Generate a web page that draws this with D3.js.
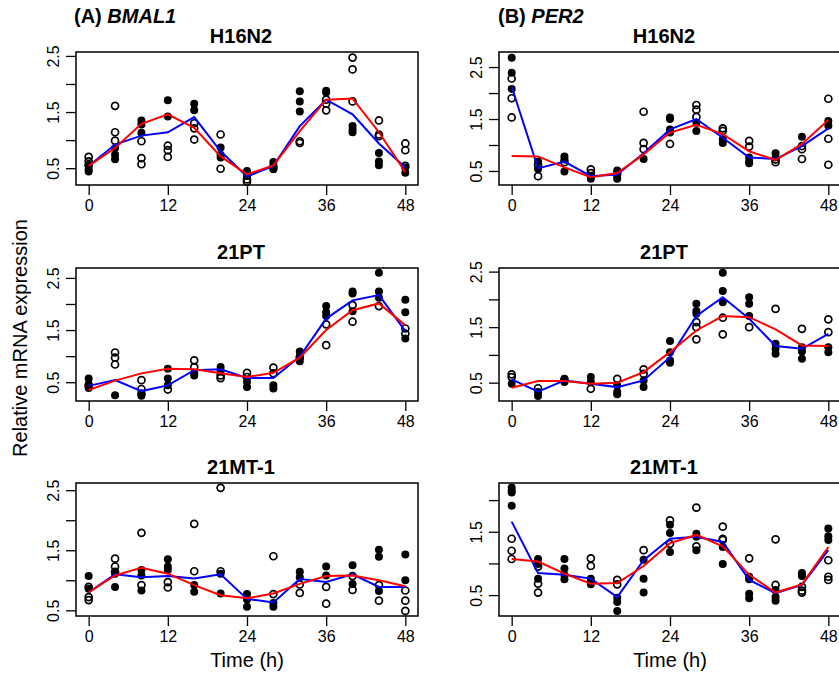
<!DOCTYPE html>
<html>
<head>
<meta charset="utf-8">
<script src="https://cdn.jsdelivr.net/npm/d3@7"></script>
<style>
  body { margin: 0; background: #fff; overflow: hidden; }
  svg { display: block; font-family: "Liberation Sans", Arial, Helvetica, sans-serif; }
</style>
</head>
<body>
<svg id="chart" width="839" height="676"></svg>
<script>
// time points (h)
var times = [0, 4, 8, 12, 16, 20, 24, 28, 32, 36, 40, 44, 48];
var xTicks = [0, 12, 24, 36, 48];

// BMAL1 / H16N2
var bmalH16Filled = [[0.55,0.48,0.44],[0.86,0.74,0.66],[1.35,1.28,1.13],[1.71,1.42],[1.65,1.53],[0.87,0.74,0.69],[0.45,0.36],[0.61,0.55,0.48],[1.87,1.69,1.51],[1.88,1.85],[1.25,1.19,1.14],[0.77,0.62,0.55],[0.51,0.42]];
var bmalH16Open = [[0.70,0.62,0.55],[1.61,1.14,0.99],[0.98,0.68,0.57],[0.90,0.82,0.70],[1.30,1.21,1.01],[1.10,0.49],[0.30,0.26],[0.51],[0.98,0.95],[1.72,1.65,1.53],[2.47,2.26,1.69],[1.35,1.10,1.07],[0.94,0.82,0.54]];
var bmalH16Mean = [0.54,0.92,1.08,1.14,1.41,0.80,0.35,0.54,1.25,1.72,1.46,0.94,0.51];
var bmalH16Fit = [0.54,0.86,1.29,1.46,1.22,0.71,0.39,0.55,1.16,1.72,1.74,1.14,0.43];

// PER2 / H16N2
var perH16Filled = [[2.68,2.39,2.08],[0.68,0.54],[0.78,0.72,0.49],[0.41,0.35],[0.51,0.41,0.35],[0.73],[1.53,1.50,1.30,1.24],[1.43,1.27],[1.11,1.04],[0.76,0.68,0.65],[0.84,0.76],[1.16],[1.46,1.37]];
var perH16Open = [[2.28,1.90,1.53],[0.62,0.40],[0.67],[0.53,0.46],[0.45],[1.64,1.04,0.92],[1.02],[1.77,1.68,1.54],[1.32,1.27],[1.08,0.97],[0.72,0.67],[0.98,0.92,0.73],[1.89,1.12,0.62]];
var perH16Mean = [2.12,0.55,0.68,0.40,0.43,0.84,1.30,1.50,1.14,0.76,0.73,0.98,1.32];
var perH16Fit = [0.79,0.78,0.57,0.38,0.46,0.82,1.24,1.39,1.21,0.88,0.71,1.02,1.48];

// BMAL1 / 21PT
var bmal21PTFilled = [[0.57,0.46,0.39],[0.25],[0.24],[0.76,0.57,0.44],[0.67,0.63],[0.79,0.72],[0.51,0.41],[0.44,0.38],[1.09,1.00,0.90],[1.96,1.84,1.77],[2.24,2.20,1.86],[2.60,2.24,2.12],[2.08,1.84,1.34]];
var bmal21PTOpen = [[0.43],[1.07,0.97,0.84],[0.54,0.37,0.28],[0.36],[0.92,0.79],[0.63,0.58],[0.68,0.60],[0.78,0.67],[0.97],[1.61,1.21],[1.98,1.66],[1.96],[1.53,1.43]];
var bmal21PTMean = [0.43,0.54,0.33,0.44,0.73,0.75,0.58,0.58,0.99,1.72,2.07,2.17,1.48];
var bmal21PTFit = [0.35,0.53,0.67,0.76,0.75,0.67,0.60,0.68,0.97,1.50,1.88,2.01,1.59];

// PER2 / 21PT
var per21PTFilled = [[0.48],[0.33,0.26],[0.57,0.51],[0.60,0.51],[0.45,0.33,0.29],[0.54,0.42],[1.25,1.05,0.90,0.86],[1.92,1.79,1.74],[2.48,2.15,1.95],[2.04,1.92,1.70],[1.20,1.11,1.02],[1.14,1.06,0.93],[1.14,1.05]];
var per21PTOpen = [[0.65,0.60],[0.40],[0.55],[0.39],[0.57],[0.74,0.66],[],[1.59,1.50,1.28],[1.67,1.37],[1.50],[1.83],[1.47],[1.64,1.41]];
var per21PTMean = [0.56,0.34,0.54,0.48,0.42,0.54,0.96,1.70,2.04,1.65,1.16,1.11,1.38];
var per21PTFit = [0.41,0.53,0.53,0.48,0.50,0.69,1.05,1.44,1.70,1.68,1.46,1.17,1.16];

// BMAL1 / 21MT-1
var bmal21MTFilled = [[1.07,0.86],[1.11,0.89],[1.17,1.08,0.83],[1.35,1.23,1.17],[0.92,0.81],[1.11,0.78],[0.77,0.68,0.56],[0.62,0.56],[1.14,1.05],[1.23,1.08],[1.25,0.94],[1.51,1.39,0.82],[1.43,1.00]];
var bmal21MTOpen = [[0.89,0.72,0.67],[1.36,1.23,1.14],[1.79,0.92],[0.97,0.88],[1.94,1.15],[2.54,1.15],[],[1.40,0.77],[0.93,0.79],[0.89,0.61],[1.07,0.84],[0.92,0.66],[0.83,0.66,0.49]];
var bmal21MTMean = [0.80,1.10,1.05,1.07,1.03,1.10,0.69,0.63,1.02,0.97,1.10,0.89,0.89];
var bmal21MTFit = [0.80,1.08,1.21,1.11,0.92,0.75,0.70,0.78,0.94,1.07,1.08,1.00,0.90];

// PER2 / 21MT-1
var per21MTFilled = [[2.20,2.15,2.12,1.91],[1.07,0.99,0.76],[1.07,0.92,0.82,0.75],[0.76,0.71,0.67],[0.46,0.39,0.25],[1.06,0.76,0.54],[1.61,1.48,1.18],[1.47,1.42,1.21],[1.26,0.99],[0.79,0.75,0.52,0.45],[0.58,0.47,0.41],[0.85,0.80],[1.55,1.43,1.37]];
var per21MTOpen = [[1.39,1.20,1.07],[0.95,0.68,0.54],[],[1.08,0.96],[0.74,0.67],[1.21],[1.68,1.31],[1.88,1.27],[1.58,1.39,1.37],[1.08],[1.38,0.66],[0.63,0.57,0.54],[1.05,0.79,0.74]];
var per21MTMean = [1.66,0.85,0.82,0.76,0.47,1.05,1.39,1.42,1.34,0.74,0.53,0.66,1.21];
var per21MTFit = [1.07,1.03,0.84,0.68,0.69,0.96,1.32,1.45,1.27,0.82,0.54,0.67,1.26];

var yTicksFull = [0.5, 1.0, 1.5, 2.0, 2.5];
var yTicksShort = [0.5, 1.0, 1.5, 2.0];

var panels = [
  { title: "H16N2", col: 0, row: 0, yDomain: [0.20, 2.57], yTicks: yTicksFull, filled: bmalH16Filled, open: bmalH16Open, mean: bmalH16Mean, fit: bmalH16Fit },
  { title: "H16N2", col: 1, row: 0, yDomain: [0.23, 2.79], yTicks: yTicksFull, filled: perH16Filled, open: perH16Open, mean: perH16Mean, fit: perH16Fit },
  { title: "21PT", col: 0, row: 1, yDomain: [0.14, 2.69], yTicks: yTicksFull, filled: bmal21PTFilled, open: bmal21PTOpen, mean: bmal21PTMean, fit: bmal21PTFit },
  { title: "21PT", col: 1, row: 1, yDomain: [0.17, 2.565], yTicks: yTicksFull, filled: per21PTFilled, open: per21PTOpen, mean: per21PTMean, fit: per21PTFit },
  { title: "21MT-1", col: 0, row: 2, yDomain: [0.405, 2.62], yTicks: yTicksFull, filled: bmal21MTFilled, open: bmal21MTOpen, mean: bmal21MTMean, fit: bmal21MTFit },
  { title: "21MT-1", col: 1, row: 2, yDomain: [0.17, 2.27], yTicks: yTicksShort, filled: per21MTFilled, open: per21MTOpen, mean: per21MTMean, fit: per21MTFit }
];

var colLeft = [76, 499];
var rowTop = [52, 268, 483];
var boxW = 342, boxH = 133;

var svg = d3.select("#chart");

// flatten a list-per-time into points
function toPoints(groups) {
  var pts = [];
  groups.forEach(function (vals, i) {
    vals.forEach(function (v) { pts.push({ t: times[i], v: v }); });
  });
  return pts;
}

panels.forEach(function (p) {
  var g = svg.append("g")
    .attr("transform", "translate(" + colLeft[p.col] + "," + rowTop[p.row] + ")");

  var x = d3.scaleLinear().domain([-1.92, 49.92]).range([0, boxW]);
  var y = d3.scaleLinear().domain(p.yDomain).range([boxH, 0]);

  // title
  g.append("text")
    .attr("x", boxW / 2 - 6)
    .attr("y", -9)
    .attr("text-anchor", "middle")
    .style("font-size", "20px")
    .style("font-weight", "bold")
    .text(p.title);

  // x axis
  var xAxis = g.append("g")
    .attr("transform", "translate(0," + boxH + ")")
    .call(d3.axisBottom(x).tickValues(xTicks).tickSize(10).tickPadding(5).tickFormat(d3.format("d")));
  xAxis.select(".domain").remove();
  xAxis.selectAll("line").attr("stroke", "#000").attr("stroke-width", 1.3);
  xAxis.selectAll("text").style("font-size", "16px").attr("fill", "#000");

  // y axis, labels rotated like base R
  var yAxis = g.append("g")
    .call(d3.axisLeft(y).tickValues(p.yTicks).tickSize(10)
      .tickFormat(function (d) { return (d * 2) % 2 === 1 ? d3.format(".1f")(d) : ""; }));
  yAxis.select(".domain").remove();
  yAxis.selectAll("line").attr("stroke", "#000").attr("stroke-width", 1.3);
  yAxis.selectAll("text")
    .attr("x", null).attr("dy", null)
    .attr("transform", "translate(-17,0) rotate(-90)")
    .attr("text-anchor", "middle")
    .attr("fill", "#000")
    .style("font-size", "16px");

  // open circles
  g.selectAll("circle.open")
    .data(toPoints(p.open))
    .enter().append("circle")
    .attr("class", "open")
    .attr("cx", function (d) { return x(d.t); })
    .attr("cy", function (d) { return y(d.v); })
    .attr("r", 3.5)
    .attr("fill", "none")
    .attr("stroke", "#000")
    .attr("stroke-width", 1.7);

  // filled circles
  g.selectAll("circle.filled")
    .data(toPoints(p.filled))
    .enter().append("circle")
    .attr("class", "filled")
    .attr("cx", function (d) { return x(d.t); })
    .attr("cy", function (d) { return y(d.v); })
    .attr("r", 4)
    .attr("fill", "#000");

  var line = d3.line()
    .x(function (d, i) { return x(times[i]); })
    .y(function (d) { return y(d); });

  g.append("path")
    .datum(p.mean)
    .attr("d", line)
    .attr("fill", "none")
    .attr("stroke", "#0000ff")
    .attr("stroke-width", 2);

  g.append("path")
    .datum(p.fit)
    .attr("d", line)
    .attr("fill", "none")
    .attr("stroke", "#ff0000")
    .attr("stroke-width", 2);

  // box
  g.append("rect")
    .attr("width", boxW)
    .attr("height", boxH)
    .attr("fill", "none")
    .attr("stroke", "#000")
    .attr("stroke-width", 1.5);
});

// panel labels
[["(A) ", "BMAL1", 74], ["(B) ", "PER2", 498]].forEach(function (lab) {
  var t = svg.append("text")
    .attr("x", lab[2])
    .attr("y", 23)
    .style("font-size", "20px")
    .style("font-weight", "bold");
  t.append("tspan").text(lab[0]);
  t.append("tspan").style("font-style", "italic").text(lab[1]);
});

// axis titles
[247, 670].forEach(function (cx) {
  svg.append("text")
    .attr("x", cx)
    .attr("y", 667)
    .attr("text-anchor", "middle")
    .style("font-size", "20px")
    .text("Time (h)");
});

svg.append("text")
  .attr("transform", "translate(27,338) rotate(-90)")
  .attr("text-anchor", "middle")
  .style("font-size", "20px")
  .text("Relative mRNA expression");
</script>
</body>
</html>
